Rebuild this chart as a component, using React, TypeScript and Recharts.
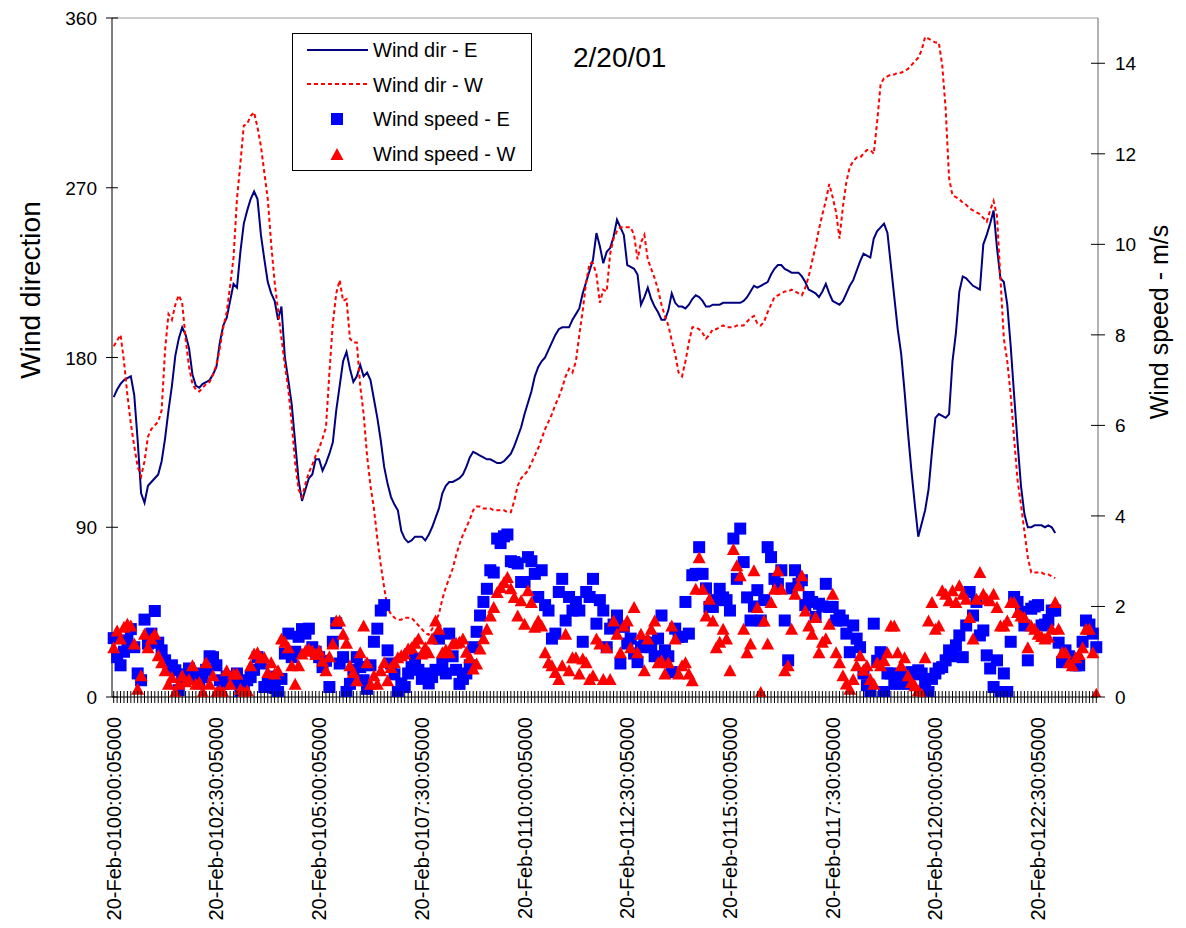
import React from 'react';
import { ComposedChart, Line, Scatter, XAxis, YAxis, ReferenceLine, Legend } from 'recharts';

const FONT = '"Liberation Sans", Arial, Helvetica, sans-serif';

const tickLabels = [
  '20-Feb-0100:00:05000', '20-Feb-0102:30:05000', '20-Feb-0105:00:05000', '20-Feb-0107:30:05000',
  '20-Feb-0110:00:05000', '20-Feb-0112:30:05000', '20-Feb-0115:00:05000', '20-Feb-0117:30:05000',
  '20-Feb-0120:00:05000', '20-Feb-0122:30:05000',
];
const dirTicks = [0, 90, 180, 270, 360];
const speedTicks = [0, 2, 4, 6, 8, 10, 12, 14];

const windDirE = [
  159, 163, 166, 168, 169, 170, 160, 136, 108, 103, 112, 114, 116, 118, 125, 137, 152, 165, 181, 190,
  196, 192, 185, 171, 165, 164, 166, 167, 168, 171, 175, 188, 197, 201, 210, 219, 217, 236, 251, 258,
  264, 268, 264, 245, 232, 220, 214, 210, 200, 207, 180, 168, 155, 135, 115, 104, 110, 116, 118, 126,
  126, 120, 124, 129, 135, 152, 165, 178, 183, 174, 167, 170, 176, 170, 172, 168, 158, 148, 136, 122,
  113, 106, 102, 99, 88, 84, 82, 83, 85, 85, 85, 83, 86, 90, 95, 100, 108, 112, 114, 114,
  115, 116, 118, 122, 127, 130, 129, 128, 127, 126, 126, 125, 124, 124, 125, 127, 129, 133, 138, 143,
  150, 156, 162, 170, 175, 178, 180, 184, 188, 192, 195, 196, 196, 196, 200, 203, 206, 214, 220, 226,
  232, 246, 239, 230, 236, 238, 244, 253, 249, 245, 229, 228, 227, 224, 208, 212, 217, 211, 207, 204,
  200, 200, 205, 214, 209, 207, 207, 206, 208, 211, 213, 212, 210, 207, 207, 208, 208, 208, 209, 209,
  209, 209, 209, 209, 210, 212, 215, 218, 217, 218, 219, 220, 224, 227, 229, 229, 227, 226, 225, 225,
  225, 223, 220, 216, 215, 214, 212, 215, 219, 214, 210, 209, 208, 210, 214, 218, 221, 226, 231, 235,
  234, 233, 243, 247, 249, 251, 246, 229, 212, 195, 182, 162, 140, 120, 102, 85, 92, 99, 110, 130,
  148, 150, 149, 148, 150, 178, 193, 215, 223, 222, 220, 218, 217, 216, 240, 245, 251, 258, 238, 222,
  220, 208, 186, 160, 135, 112, 97, 90, 90, 91, 91, 91, 90, 91, 90, 87,
];

const windDirW = [
  186, 189, 192, 178, 160, 145, 133, 122, 117, 125, 138, 142, 144, 146, 152, 184, 203, 200, 208, 213,
  209, 190, 175, 166, 163, 162, 164, 166, 167, 171, 176, 185, 196, 204, 218, 233, 264, 283, 303, 304,
  308, 310, 302, 292, 278, 264, 240, 220, 205, 190, 176, 163, 145, 124, 110, 106, 113, 119, 123, 128,
  132, 137, 143, 172, 198, 214, 221, 210, 211, 190, 188, 188, 165, 150, 128, 112, 100, 84, 70, 58,
  47, 44, 42, 41, 41, 42, 42, 42, 40, 38, 36, 34, 33, 36, 40, 44, 52, 58, 63, 68,
  75, 81, 86, 90, 94, 99, 101, 101, 100, 100, 100, 99, 99, 99, 99, 98, 98, 104, 112, 116,
  118, 120, 124, 128, 132, 137, 142, 146, 150, 155, 159, 164, 170, 174, 172, 178, 192, 205, 220, 230,
  230, 224, 209, 216, 215, 235, 243, 247, 249, 249, 249, 249, 245, 232, 241, 245, 232, 227, 222, 216,
  208, 202, 197, 189, 182, 172, 170, 178, 188, 196, 196, 195, 193, 190, 192, 195, 195, 196, 197, 196,
  196, 196, 197, 197, 197, 199, 201, 202, 198, 197, 199, 204, 208, 212, 213, 214, 215, 215, 216, 215,
  214, 213, 217, 223, 231, 239, 248, 256, 263, 272, 265, 257, 243, 260, 273, 281, 284, 286, 286, 288,
  290, 290, 288, 305, 325, 328, 329, 330, 330, 331, 331, 332, 333, 335, 337, 339, 343, 350, 349, 348,
  347, 347, 335, 312, 275, 266, 265, 264, 262, 261, 259, 258, 257, 256, 254, 252, 258, 263, 255, 222,
  190, 178, 160, 137, 115, 102, 88, 74, 66, 66, 66, 66, 65, 65, 64, 63,
];

const windSpeedE = [
  1.30, 0.88, 0.70, 1.00, 1.25, 1.50, 1.10, 0.52, 0.37, 1.71, 1.18, 1.40, 1.90, 1.20, 1.03, 0.81, 0.60, 0.70, 0.59, 0.15,
  0.37, 0.50, 0.63, 0.45, 0.52, 0.30, 0.44, 0.60, 0.90, 0.88, 0.70, 0.37, 0.29, 0.45, 0.40, 0.30, 0.52, 0.11, 0.30, 0.37,
  0.44, 0.60, 0.88, 0.74, 0.22, 0.29, 0.45, 0.20, 0.11, 0.40, 0.96, 1.40, 0.88, 1.00, 1.33, 1.50,
  1.40, 1.51, 1.10, 1.00, 0.88, 0.66, 0.80, 0.22, 1.22, 1.63, 0.74, 0.88, 0.11, 0.29, 0.60, 0.88, 0.66, 0.37, 0.18, 0.70,
  1.22, 1.51, 1.91, 2.03, 1.03, 0.74, 0.50, 0.11, 0.30, 0.22, 0.52, 0.66, 0.85, 0.60, 0.40, 0.52, 0.30, 0.44, 0.60, 1.29,
  0.74, 0.52, 1.40, 0.90, 0.60, 0.29, 0.40, 0.52, 0.70, 1.10, 1.44, 1.80, 2.10, 2.39, 2.80, 2.75, 3.50,
  3.40, 3.55, 3.59, 3.00, 2.98, 2.95, 2.54, 2.54, 3.09, 3.00, 2.72, 2.21, 2.80, 2.03, 1.91, 1.29, 1.40, 2.32, 2.61, 1.69,
  2.21, 1.91, 2.10, 1.91, 1.22, 2.32, 2.21, 2.61, 1.62, 2.14, 1.91, 1.10, 1.51, 1.60, 1.80, 0.74, 1.55, 1.18, 1.29, 0.96,
  0.77, 1.10, 1.22, 1.20, 1.10, 0.90, 1.29, 1.80, 1.03, 0.90, 0.55, 1.51, 1.33, 1.33, 2.10, 1.40, 2.69,
  2.72, 3.31, 2.72, 2.40, 1.99, 1.99, 2.14, 2.39, 2.20, 2.14, 1.91, 3.50, 2.61, 3.72, 2.98, 2.20, 1.69, 2.00, 2.36, 1.69,
  2.14, 3.31, 3.09, 2.61, 2.50, 2.80, 1.69, 0.81, 2.40, 2.80, 2.50, 2.58, 2.03, 2.21, 2.10, 1.77, 2.06, 2.00, 2.50, 1.99,
  1.99, 1.69, 1.80, 1.69, 1.40, 0.99, 1.58, 1.29, 1.10, 0.52, 0.26, 0.11, 1.62, 0.80, 0.99, 0.11, 0.52,
  0.52, 0.29, 0.45, 0.35, 0.29, 0.45, 0.55, 0.50, 0.59, 0.52, 0.30, 0.11, 0.40, 0.52, 0.63, 0.66, 0.81, 1.03, 0.90, 1.14,
  1.36, 0.88, 1.58, 2.32, 1.80, 2.10, 1.36, 1.47, 0.92, 0.63, 0.22, 0.81, 0.11, 0.52, 0.11, 1.22, 2.21, 2.10, 1.88, 1.58,
  0.81, 1.95, 2.00, 2.03, 1.58, 1.60, 1.70, 1.91, 1.91, 1.20, 0.77, 1.03, 0.90, 0.80, 0.70, 0.70, 1.22, 1.69, 1.60, 1.40,
  1.10,
];

const windSpeedW = [
  1.10, 1.47, 1.29, 1.55, 1.62, 1.58, 1.18, 0.18, 0.48, 1.40, 1.10, 1.29, 1.40, 0.92, 0.77, 0.59, 0.29, 0.44, 0.11, 0.29,
  0.48, 0.35, 0.40, 0.70, 0.29, 0.33, 0.11, 0.77, 0.29, 0.48, 0.11, 0.15, 0.11, 0.59, 0.29, 0.52, 0.52, 0.18, 0.11, 0.15,
  0.70, 0.96, 0.99, 0.88, 0.88, 0.55, 0.77, 0.52, 0.59, 1.29, 1.22, 1.10, 0.70, 0.29, 0.70, 0.96,
  1.03, 1.07, 1.03, 0.95, 1.03, 0.80, 0.59, 0.90, 1.18, 1.69, 1.69, 1.40, 1.20, 0.70, 0.55, 0.37, 0.99, 1.58, 0.77, 0.29,
  0.48, 0.29, 0.59, 0.77, 0.37, 0.66, 0.77, 0.88, 0.92, 0.96, 1.07, 1.10, 1.20, 1.29, 0.96, 1.10, 0.99, 1.29, 1.69, 1.51,
  0.99, 1.05, 0.99, 1.18, 1.20, 1.22, 1.29, 1.00, 0.88, 0.63, 0.74, 1.07, 1.30, 1.51, 1.80, 1.99, 2.32,
  2.43, 2.54, 2.65, 2.40, 2.21, 1.80, 2.14, 1.62, 2.36, 2.10, 1.55, 1.69, 1.58, 0.99, 0.77, 0.70, 0.55, 0.40, 0.70, 1.40,
  0.59, 0.88, 0.88, 0.52, 0.85, 0.77, 0.40, 0.48, 1.29, 1.18, 0.40, 1.10, 0.40, 1.69, 1.40, 0.99, 1.58, 1.69, 1.10, 1.99,
  0.99, 1.40, 0.59, 1.29, 1.51, 1.69, 0.77, 0.81, 0.52, 0.77, 1.58, 1.29, 0.52, 0.70, 0.77, 0.52, 0.37,
  2.39, 3.09, 2.39, 1.80, 2.17, 1.69, 1.10, 1.22, 1.51, 1.29, 0.59, 3.27, 2.91, 2.69, 1.51, 0.99, 1.18, 2.80, 1.99, 0.11,
  1.69, 1.18, 2.10, 2.39, 2.80, 2.39, 0.59, 0.70, 1.51, 2.28, 2.47, 2.69, 1.91, 1.58, 1.40, 1.77, 0.99, 1.22, 1.30, 1.62,
  2.28, 0.99, 0.77, 0.48, 0.30, 0.18, 0.40, 0.70, 0.92, 0.60, 0.70, 0.40, 0.29, 0.77, 0.70, 0.81, 0.99,
  1.58, 1.58, 0.99, 0.70, 0.88, 0.48, 0.33, 0.26, 0.15, 0.07, 0.88, 1.69, 2.10, 1.51, 1.58, 2.36, 2.28, 2.14, 2.36, 2.10,
  2.47, 2.28, 2.17, 1.77, 1.29, 2.17, 2.76, 2.28, 2.17, 2.14, 2.28, 1.99, 1.58, 1.58, 1.69, 2.10, 2.10, 1.88, 1.80, 1.77,
  1.10, 1.58, 1.51, 1.40, 1.35, 1.29, 1.33, 1.51, 2.10, 1.51, 0.99, 0.99, 0.77, 0.70, 0.88, 0.95, 1.10, 1.51, 1.51, 0.99,
  0.07,
];

const N_CATEGORIES = 288;
const pad2 = (n: number) => (n < 10 ? '0' + n : String(n));
const categories = Array.from({ length: N_CATEGORIES }, (_, i) => {
  const m = i * 5;
  return `20-Feb-01${pad2(Math.floor(m / 60))}:${pad2(m % 60)}:05000`;
});

const data = categories.map((t, i) => ({
  t,
  dirE: i < windDirE.length ? windDirE[i] : null,
  dirW: i < windDirW.length ? windDirW[i] : null,
  spdE: i < windSpeedE.length ? windSpeedE[i] : null,
  spdW: i < windSpeedW.length ? windSpeedW[i] : null,
}));

const NAVY = '#000080';
const RED = '#FF0000';
const BLUE = '#0000FF';

const XTick = (props: any) => {
  const { x, y, index } = props;
  const show = index % 30 === 0;
  const label = tickLabels[index / 30];
  return (
    <g>
      <line x1={x} x2={x} y1={y - 6} y2={y + 6} stroke="#000" strokeWidth={1} />
      {show && label ? (
        <text
          x={x + 7}
          y={y + 20}
          transform={`rotate(-90 ${x + 7} ${y + 20})`}
          textAnchor="end"
          fontSize={20}
          fontFamily={FONT}
          fill="#000"
        >
          {label}
        </text>
      ) : null}
    </g>
  );
};

const LeftTick = (props: any) => {
  const { x, y, payload } = props;
  return (
    <g>
      <line x1={x - 6} x2={x + 6} y1={y} y2={y} stroke="#000" strokeWidth={1} />
      <text x={x - 15} y={y + 7} textAnchor="end" fontSize={19} fontFamily={FONT} fill="#000">
        {payload.value}
      </text>
    </g>
  );
};

const RightTick = (props: any) => {
  const { x, y, payload } = props;
  return (
    <g>
      <line x1={x - 7} x2={x + 7} y1={y} y2={y} stroke="#000" strokeWidth={1} />
      <text x={x + 17} y={y + 7} textAnchor="start" fontSize={19} fontFamily={FONT} fill="#000">
        {payload.value}
      </text>
    </g>
  );
};

const SquareShape = (props: any) => {
  const { cx, cy } = props;
  if (cx == null || cy == null || isNaN(cx) || isNaN(cy)) return <g />;
  return <rect x={cx - 6} y={cy - 6} width={12} height={12} fill={BLUE} />;
};

const TriangleShape = (props: any) => {
  const { cx, cy } = props;
  if (cx == null || cy == null || isNaN(cx) || isNaN(cy)) return <g />;
  return <polygon points={`${cx - 6.5},${cy + 6} ${cx + 6.5},${cy + 6} ${cx},${cy - 6}`} fill={RED} />;
};

const renderLegend = () => (
  <svg width={240} height={138} style={{ display: 'block' }}>
    <rect x={0.5} y={0.5} width={239} height={137} fill="#fff" stroke="#000" strokeWidth={1} />
    <g fontFamily={FONT} fontSize={20} fill="#000">
      <line x1={15} x2={76} y1={17} y2={17} stroke={NAVY} strokeWidth={2} />
      <text x={81} y={24}>Wind dir - E</text>
      <line x1={15} x2={76} y1={51} y2={51} stroke={RED} strokeWidth={2} strokeDasharray="4 3" />
      <text x={81} y={58.5}>Wind dir - W</text>
      <rect x={39} y={80} width={12} height={12} fill={BLUE} />
      <text x={81} y={93}>Wind speed - E</text>
      <polygon points="38.5,127 51.5,127 45,115" fill={RED} />
      <text x={81} y={128}>Wind speed - W</text>
    </g>
  </svg>
);

const leftTitle = () => (
  <text
    x={32}
    y={282}
    transform="rotate(-90 32 282)"
    textAnchor="middle"
    fontSize={28}
    fontFamily={FONT}
    fill="#000"
  >
    Wind direction
  </text>
);

const rightTitle = () => (
  <text
    x={1160}
    y={314}
    transform="rotate(-90 1160 314)"
    textAnchor="middle"
    fontSize={25}
    fontFamily={FONT}
    fill="#000"
  >
    Wind speed - m/s
  </text>
);

export default function App() {
  return (
    <div style={{ position: 'relative', width: 1170, height: 912, fontFamily: FONT }}>
      <ComposedChart width={1170} height={912} data={data} margin={{ top: 10, right: 0, bottom: 0, left: 0 }}>
        <XAxis
          dataKey="t"
          scale="band"
          interval={0}
          height={223}
          tickLine={false}
          tickSize={0}
          tickMargin={0}
          axisLine={{ stroke: '#000', strokeWidth: 1 }}
          tick={(p: any) => <XTick {...p} />}
        />
        <YAxis
          yAxisId="left"
          orientation="left"
          width={104}
          domain={[0, 360]}
          ticks={dirTicks}
          allowDataOverflow
          tickLine={false}
          tickSize={0}
          tickMargin={0}
          axisLine={{ stroke: '#000', strokeWidth: 1 }}
          tick={(p: any) => <LeftTick {...p} />}
          label={leftTitle}
        />
        <YAxis
          yAxisId="right"
          orientation="right"
          width={80}
          domain={[0, 15]}
          ticks={speedTicks}
          allowDataOverflow
          tickLine={false}
          tickSize={0}
          tickMargin={0}
          axisLine={{ stroke: '#666', strokeWidth: 1 }}
          tick={(p: any) => <RightTick {...p} />}
          label={rightTitle}
        />
        <ReferenceLine yAxisId="left" y={360} stroke="#999" strokeWidth={1} />
        <Line
          yAxisId="left"
          dataKey="dirE"
          type="linear"
          stroke={NAVY}
          strokeWidth={2}
          dot={false}
          activeDot={false}
          isAnimationActive={false}
        />
        <Line
          yAxisId="left"
          dataKey="dirW"
          type="linear"
          stroke={RED}
          strokeWidth={2}
          strokeDasharray="4 3"
          dot={false}
          activeDot={false}
          isAnimationActive={false}
        />
        <Scatter yAxisId="right" dataKey="spdE" shape={(p: any) => <SquareShape {...p} />} isAnimationActive={false} />
        <Scatter yAxisId="right" dataKey="spdW" shape={(p: any) => <TriangleShape {...p} />} isAnimationActive={false} />
        <Legend
          content={renderLegend}
          layout="vertical"
          align="center"
          verticalAlign="middle"
          wrapperStyle={{ left: 284, top: 25, width: 240, height: 138, margin: 0, padding: 0 }}
        />
      </ComposedChart>
      <div
        style={{
          position: 'absolute',
          left: 565,
          top: 36,
          fontSize: 28,
          lineHeight: '28px',
          fontFamily: FONT,
          color: '#000',
          whiteSpace: 'nowrap',
        }}
      >
        2/20/01
      </div>
    </div>
  );
}
